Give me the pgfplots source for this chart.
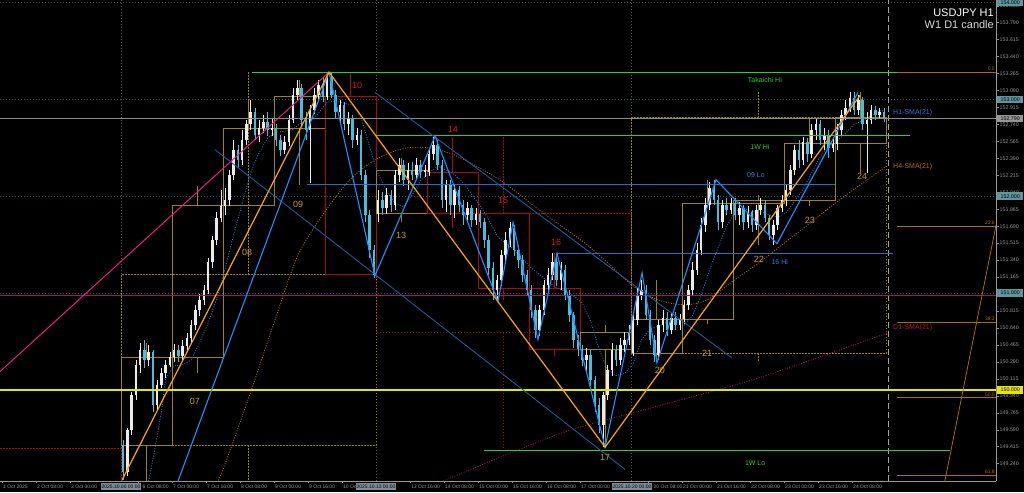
\documentclass[border=0pt]{standalone}
\usepackage{pgfplots}
\pgfplotsset{compat=1.18}
\usepackage{pgfplotstable}
\usepackage{fontspec}
\setmainfont{Liberation Sans}

\definecolor{bullc}{RGB}{235,235,235}
\definecolor{bearc}{RGB}{70,190,220}
\definecolor{boxgold}{RGB}{160,130,20}
\definecolor{boxred}{RGB}{170,10,10}
\definecolor{lblgold}{RGB}{200,160,30}
\definecolor{lblred}{RGB}{210,30,30}
\definecolor{zzorange}{RGB}{255,165,0}
\definecolor{zzblue}{RGB}{30,144,255}
\definecolor{chblue}{RGB}{30,90,160}
\definecolor{lvlblue}{RGB}{40,110,190}
\definecolor{txtblue}{RGB}{60,130,220}
\definecolor{smablue}{RGB}{40,120,220}
\definecolor{smaorange}{RGB}{190,110,20}
\definecolor{smamag}{RGB}{180,20,100}
\definecolor{pinkl}{RGB}{235,30,130}
\definecolor{greenl}{RGB}{40,210,40}
\definecolor{magl}{RGB}{170,20,100}
\definecolor{yell}{RGB}{230,230,0}
\definecolor{curgray}{RGB}{140,140,140}
\definecolor{gridteal}{RGB}{55,95,105}
\definecolor{fibc}{RGB}{170,110,0}
\definecolor{tickgray}{RGB}{150,150,150}
\definecolor{sepgray}{RGB}{90,90,90}
\definecolor{hlteal}{RGB}{95,150,160}
\definecolor{hlgray}{RGB}{150,150,150}
\definecolor{hltime}{RGB}{125,140,150}

\pgfplotstableread{
x o h l c
1 149.43 149.48 149.07 149.15
3 149.15 149.61 149.11 149.59
5 149.59 149.98 149.54 149.95
7 149.95 150.31 149.90 150.26
9 150.26 150.48 150.18 150.41
11 150.41 150.52 150.23 150.31
13 150.31 150.46 150.25 150.39
15 150.39 150.41 149.77 149.84
17 149.84 150.10 149.79 150.05
19 150.05 150.23 150.02 150.18
21 150.18 150.31 150.12 150.26
23 150.26 150.39 150.24 150.34
25 150.34 150.47 150.29 150.41
27 150.41 150.46 150.29 150.35
29 150.35 150.52 150.31 150.45
31 150.45 150.59 150.39 150.54
33 150.54 150.72 150.49 150.67
35 150.67 150.88 150.62 150.83
37 150.83 150.99 150.76 150.93
39 150.93 151.08 150.88 151.03
41 151.03 151.36 150.99 151.32
43 151.32 151.59 151.26 151.55
45 151.55 151.84 151.50 151.77
47 151.77 152.06 151.73 151.90
49 151.90 152.08 151.81 151.96
51 151.96 152.27 151.90 152.22
53 152.22 152.58 152.17 152.48
55 152.48 152.53 152.29 152.37
57 152.37 152.68 152.32 152.58
59 152.58 152.79 152.53 152.74
61 152.74 152.99 152.68 152.87
63 152.87 152.91 152.58 152.63
65 152.63 152.79 152.56 152.70
67 152.70 152.84 152.65 152.77
69 152.77 152.87 152.62 152.68
71 152.68 152.81 152.62 152.70
73 152.70 152.74 152.52 152.58
75 152.58 152.63 152.41 152.48
77 152.48 152.62 152.43 152.56
79 152.56 152.84 152.52 152.79
81 152.79 153.12 152.75 153.04
83 153.04 153.20 152.99 153.12
85 153.12 153.16 152.72 152.79
87 152.79 152.87 152.58 152.68
89 152.68 152.94 152.14 152.89
91 152.89 153.12 152.85 153.04
93 153.04 153.20 152.99 153.15
95 153.15 153.22 152.97 153.02
97 153.02 153.28 152.99 153.22
99 153.22 153.28 153.01 153.04
101 153.04 153.10 152.81 152.87
103 152.87 152.99 152.77 152.94
105 152.94 152.97 152.68 152.74
107 152.74 152.87 152.63 152.81
109 152.81 152.84 152.50 152.58
111 152.58 152.70 152.53 152.63
113 152.63 152.68 152.17 152.22
115 152.22 152.27 151.73 151.81
117 151.81 151.86 151.36 151.44
119 151.44 151.50 151.16 151.19
121 151.82 152.06 151.73 151.96
123 151.96 152.04 151.81 151.88
125 151.88 152.08 151.82 152.01
127 152.01 152.06 151.84 151.91
129 151.91 152.27 151.86 152.22
131 152.22 152.39 152.15 152.32
133 152.32 152.37 152.10 152.17
135 152.17 152.34 152.06 152.27
137 152.27 152.35 152.17 152.22
139 152.22 152.39 152.17 152.32
141 152.32 152.37 152.19 152.25
143 152.25 152.32 152.20 152.27
145 152.25 152.48 152.21 152.43
147 152.43 152.61 152.37 152.53
149 152.53 152.58 152.27 152.32
151 152.32 152.37 151.88 151.96
153 151.96 152.17 151.84 152.12
155 152.12 152.17 151.81 151.91
157 151.91 152.12 151.77 152.06
159 152.06 152.10 151.84 151.91
161 151.91 151.96 151.70 151.81
163 151.81 151.94 151.73 151.88
165 151.88 151.91 151.68 151.75
167 151.75 151.88 151.70 151.82
169 151.82 151.86 151.67 151.73
171 151.73 151.77 151.46 151.55
173 151.55 151.60 151.19 151.26
175 151.26 151.32 150.93 151.03
177 151.03 151.19 150.93 151.14
179 151.14 151.44 151.07 151.39
181 151.39 151.63 151.32 151.55
183 151.55 151.73 151.48 151.67
185 151.67 151.70 151.38 151.44
187 151.44 151.50 151.26 151.34
189 151.34 151.39 151.11 151.19
191 151.19 151.24 150.97 151.03
193 151.03 151.08 150.74 150.83
195 150.83 150.88 150.54 150.62
197 150.62 150.88 150.56 150.83
199 150.83 151.14 150.77 151.08
201 151.08 151.26 151.01 151.19
203 151.19 151.41 151.14 151.32
205 151.32 151.38 151.07 151.14
207 151.14 151.32 151.03 151.24
209 151.24 151.29 150.93 150.98
211 150.98 151.03 150.70 150.77
213 150.77 150.80 150.43 150.52
215 150.52 150.57 150.35 150.42
217 150.42 150.46 150.25 150.31
219 150.31 150.43 150.18 150.36
221 150.36 150.41 150.04 150.10
223 150.10 150.14 149.77 149.84
225 149.84 149.92 149.56 149.64
227 149.64 149.98 149.41 149.95
229 149.95 150.26 149.90 150.21
231 150.21 150.49 150.14 150.41
233 150.41 150.46 150.25 150.31
235 150.31 150.54 150.26 150.46
237 150.46 150.60 150.39 150.52
239 150.52 150.67 150.46 150.59
241 150.38 150.77 150.35 150.72
243 150.72 151.05 150.67 150.98
245 150.98 151.14 150.93 151.03
247 151.03 151.08 150.72 150.77
249 150.77 150.83 150.46 150.52
251 150.52 150.57 150.29 150.36
253 150.36 150.72 150.31 150.67
255 150.67 150.83 150.60 150.74
257 150.74 150.80 150.56 150.62
259 150.62 150.79 150.58 150.74
261 150.74 150.80 150.62 150.67
263 150.67 150.78 150.62 150.73
265 150.73 150.93 150.68 150.88
267 150.88 151.08 150.83 151.03
269 151.03 151.32 150.97 151.24
271 151.24 151.52 151.19 151.44
273 151.44 151.77 151.39 151.70
275 151.70 151.98 151.63 151.91
277 151.91 152.15 151.86 152.08
279 152.08 152.17 151.91 151.96
281 151.96 152.01 151.65 151.73
283 151.73 151.96 151.67 151.91
285 151.91 151.98 151.81 151.86
287 151.86 151.98 151.82 151.93
289 151.93 151.98 151.75 151.81
291 151.81 151.94 151.70 151.88
293 151.88 151.91 151.65 151.73
295 151.73 151.90 151.67 151.84
297 151.84 151.86 151.63 151.70
299 151.70 151.91 151.65 151.86
301 151.86 151.98 151.81 151.91
303 151.91 151.96 151.73 151.77
305 151.77 151.81 151.55 151.60
307 151.60 151.75 151.50 151.70
309 151.70 151.91 151.65 151.88
311 151.88 152.01 151.84 151.96
313 151.96 152.12 151.90 152.06
315 152.06 152.32 152.01 152.27
317 152.27 152.53 152.22 152.48
319 152.48 152.58 152.29 152.37
321 152.37 152.61 152.32 152.56
323 152.56 152.60 152.35 152.43
325 152.43 152.74 152.39 152.68
327 152.68 152.81 152.58 152.74
329 152.74 152.79 152.53 152.58
331 152.58 152.70 152.48 152.63
333 152.63 152.68 152.39 152.50
335 152.50 152.60 152.46 152.54
337 152.54 152.74 152.48 152.68
339 152.68 152.89 152.63 152.84
341 152.84 152.99 152.79 152.91
343 152.91 153.07 152.87 153.01
345 153.01 153.07 152.84 152.89
347 152.89 153.04 152.84 152.99
349 152.99 153.02 152.68 152.74
351 152.74 152.87 152.24 152.79
353 152.79 152.94 152.74 152.89
355 152.89 152.93 152.79 152.84
357 152.84 152.91 152.81 152.87
359 152.87 152.91 152.77 152.81
}\candles

\pgfplotsset{
  gbox/.style={draw=boxgold, line width=0.8pt, mark=none, forget plot},
  rbox/.style={draw=boxred, line width=0.8pt, mark=none, forget plot},
  gweek/.style={draw=boxgold, line width=0.8pt, dash pattern=on 1.5pt off 1.5pt, mark=none, forget plot},
  rweek/.style={draw=boxred, line width=0.8pt, dash pattern=on 1.5pt off 1.5pt, mark=none, forget plot},
  lvl/.style={line width=1pt, mark=none, forget plot},
  candle/.style={forget plot, draw=none, mark=none},
}
\tikzset{
  daylbl/.style={font=\fontsize{9}{9}\selectfont},
  objlbl/.style={font=\fontsize{7}{7}\selectfont},
  fiblbl/.style={font=\fontsize{5}{5}\selectfont, text=fibc, anchor=south east, inner sep=0.5pt},
}

\begin{document}
\begin{tikzpicture}[x=1pt,y=1pt]
\path[use as bounding box] (0,0) rectangle (1024,492);
\fill[black] (0,0) rectangle (1024,492);
\begin{axis}[
  at={(0pt,11pt)}, anchor=south west,
  width=996pt, height=481pt, scale only axis,
  xmin=-56.94, xmax=411.76, ymin=149.061, ymax=154.024,
  axis x line*=bottom, axis y line*=right,
  axis line style={draw=tickgray, -, line width=0.6pt},
  clip mode=individual,
  tick align=outside, major tick length=2.5pt,
  tick style={draw=tickgray, line width=0.4pt},
  xtick={-56,-40,-24,8,24,40,56,72,88,104,136,152,168,184,200,216,248,264,280,296,312,328,344},
  xticklabels={1 Oct 2025,2 Oct 08:00,3 Oct 00:00,\hspace*{3.5pt}6 Oct 08:00,7 Oct 00:00,7 Oct 16:00,8 Oct 08:00,9 Oct 00:00,9 Oct 16:00,10 Oct 08:00,13 Oct 16:00,14 Oct 08:00,15 Oct 00:00,15 Oct 16:00,16 Oct 08:00,17 Oct 00:00,\hspace*{4.5pt}20 Oct 08:00,21 Oct 00:00,21 Oct 16:00,22 Oct 08:00,23 Oct 00:00,23 Oct 16:00,24 Oct 08:00},
  xticklabel style={font=\fontsize{5}{5}\selectfont, text=tickgray, anchor=north west, inner sep=0.5pt, xshift=0.5pt, yshift=-0.5pt},
  ytick={149.24,149.415,149.59,149.765,149.94,150.115,150.29,150.465,150.64,150.815,150.99,151.165,151.34,151.515,151.69,151.865,152.04,152.215,152.39,152.565,152.74,152.915,153.09,153.265,153.44,153.615,153.79,153.965},
  yticklabel={\pgfmathprintnumber[fixed,fixed zerofill,precision=3,assume math mode=true]{\tick}},
  yticklabel style={font=\fontsize{5.3}{5.5}\selectfont, text=tickgray, anchor=west, inner sep=0.5pt, xshift=0.5pt},
  scaled y ticks=false,
]
% grid lines and separators
\addplot[gridteal, dash pattern=on 1pt off 2pt, line width=0.7pt, forget plot] coordinates {(-56.94,154.00) (411.76,154.00)};
\addplot[gridteal, dash pattern=on 1pt off 2pt, line width=0.7pt, forget plot] coordinates {(-56.94,153.00) (411.76,153.00)};
\addplot[gridteal, dash pattern=on 1pt off 2pt, line width=0.7pt, forget plot] coordinates {(-56.94,152.00) (411.76,152.00)};
\addplot[gridteal, dash pattern=on 1pt off 2pt, line width=0.7pt, forget plot] coordinates {(-56.94,151.00) (411.76,151.00)};
\addplot[sepgray, dash pattern=on 1pt off 2pt, line width=0.6pt, forget plot] coordinates {(0,149.061) (0,154.024)};
\addplot[sepgray, dash pattern=on 1pt off 2pt, line width=0.6pt, forget plot] coordinates {(120,149.061) (120,154.024)};
\addplot[sepgray, dash pattern=on 1pt off 2pt, line width=0.6pt, forget plot] coordinates {(240,149.061) (240,154.024)};
\addplot[curgray!80, dash pattern=on 6pt off 3pt, line width=0.7pt, forget plot] coordinates {(360.9,149.061) (360.9,154.024)};

% weekly candles (dotted)
\addplot[rweek] coordinates {(-56.94,149.40) (0,149.40) (0,149.061)};
\addplot[gweek] coordinates {(0,149.43) (120,149.43) (120,151.19) (0,151.19) (0,149.43)};
\addplot[gweek] coordinates {(60,151.19) (60,153.28)};
\addplot[gweek] coordinates {(60,149.43) (60,149.061)};
\addplot[rweek] coordinates {(120,151.82) (240,151.82) (240,150.59) (120,150.59) (120,151.82)};
\addplot[rweek] coordinates {(180,151.82) (180,152.61)};
\addplot[rweek] coordinates {(180,150.59) (180,149.41)};
\addplot[gweek] coordinates {(240,150.38) (360,150.38) (360,152.81) (240,152.81) (240,150.38)};
\addplot[gweek] coordinates {(300,152.81) (300,153.07)};
\addplot[gweek] coordinates {(300,150.38) (300,150.29)};

% daily candles (boxes)
\addplot[gbox] coordinates {(0,149.43) (24,149.43) (24,150.34) (0,150.34) (0,149.43)};
\addplot[gbox] coordinates {(12,149.061) (12,149.43)};
\addplot[gbox] coordinates {(12,150.34) (12,150.48)};
\addplot[gbox] coordinates {(24,150.34) (48,150.34) (48,151.90) (24,151.90) (24,150.34)};
\addplot[gbox] coordinates {(36,150.18) (36,150.34)};
\addplot[gbox] coordinates {(36,151.90) (36,152.10)};
\addplot[gbox] coordinates {(48,151.90) (72,151.90) (72,152.70) (48,152.70) (48,151.90)};
\addplot[gbox] coordinates {(60,152.70) (60,152.99)};
\addplot[gbox] coordinates {(72,152.70) (96,152.70) (96,153.03) (72,153.03) (72,152.70)};
\addplot[gbox] coordinates {(84,152.12) (84,152.70)};
\addplot[gbox] coordinates {(84,153.03) (84,153.20)};
\addplot[rbox] coordinates {(96,153.03) (120,153.03) (120,151.19) (96,151.19) (96,153.03)};
\addplot[rbox] coordinates {(108,153.03) (108,153.28)};
\addplot[gbox] coordinates {(120,151.82) (144,151.82) (144,152.27) (120,152.27) (120,151.82)};
\addplot[gbox] coordinates {(132,151.73) (132,151.82)};
\addplot[gbox] coordinates {(132,152.27) (132,152.39)};
\addplot[rbox] coordinates {(144,152.25) (168,152.25) (168,151.82) (144,151.82) (144,152.25)};
\addplot[rbox] coordinates {(156,152.25) (156,152.61)};
\addplot[rbox] coordinates {(156,151.82) (156,151.67)};
\addplot[rbox] coordinates {(168,151.82) (192,151.82) (192,151.05) (168,151.05) (168,151.82)};
\addplot[rbox] coordinates {(180,151.05) (180,150.93)};
\addplot[rbox] coordinates {(192,151.05) (216,151.05) (216,150.42) (192,150.42) (192,151.05)};
\addplot[rbox] coordinates {(204,151.05) (204,151.41)};
\addplot[rbox] coordinates {(204,150.42) (204,150.35)};
\addplot[gbox] coordinates {(216,150.42) (240,150.42) (240,150.59) (216,150.59) (216,150.42)};
\addplot[gbox] coordinates {(228,149.41) (228,150.42)};
\addplot[gbox] coordinates {(228,150.59) (228,150.67)};
\addplot[gbox] coordinates {(240,150.38) (264,150.38) (264,150.73) (240,150.73) (240,150.38)};
\addplot[gbox] coordinates {(252,150.29) (252,150.38)};
\addplot[gbox] coordinates {(252,150.73) (252,151.14)};
\addplot[gbox] coordinates {(264,150.73) (288,150.73) (288,151.93) (264,151.93) (264,150.73)};
\addplot[gbox] coordinates {(276,150.68) (276,150.73)};
\addplot[gbox] coordinates {(276,151.93) (276,152.17)};
\addplot[gbox] coordinates {(288,151.93) (312,151.93) (312,151.96) (288,151.96) (288,151.93)};
\addplot[gbox] coordinates {(300,151.50) (300,151.93)};
\addplot[gbox] coordinates {(300,151.96) (300,152.01)};
\addplot[gbox] coordinates {(312,151.96) (336,151.96) (336,152.54) (312,152.54) (312,151.96)};
\addplot[gbox] coordinates {(324,151.90) (324,151.96)};
\addplot[gbox] coordinates {(324,152.54) (324,152.81)};
\addplot[gbox] coordinates {(336,152.54) (360,152.54) (360,152.81) (336,152.81) (336,152.54)};
\addplot[gbox] coordinates {(348,152.24) (348,152.54)};
\addplot[gbox] coordinates {(348,152.81) (348,153.07)};

% moving averages
\addplot[smaorange, dash pattern=on 1pt off 1.5pt, line width=0.8pt, smooth, forget plot] coordinates {(44,149.00) (48,149.18) (59.8,149.90) (71.5,150.66) (83.3,151.39) (96,151.84) (107.8,152.17) (120,152.38) (132.7,152.49) (144.5,152.50) (156.2,152.43) (168,152.30) (180.2,152.14) (192.5,151.93) (204.7,151.73) (216.9,151.54) (228.7,151.32) (240.5,151.08) (252.7,150.93) (264.9,150.88) (275.8,150.93) (288.9,151.14) (300.7,151.32) (312.9,151.53) (324.7,151.73) (336.9,151.94) (348.7,152.13) (360.9,152.32)};
\addplot[smamag, dash pattern=on 1pt off 1.5pt, line width=0.8pt, smooth, forget plot] coordinates {(151.5,149.06) (206.6,149.55) (253.6,149.84) (300.7,150.13) (360.9,150.59)};
\addplot[smablue, dash pattern=on 1pt off 1.5pt, line width=0.8pt, forget plot] coordinates {(13,149.06) (15,149.28) (17,149.52) (19,149.77) (21,150.12) (25,150.25) (29,150.26) (33,150.31) (37,150.49) (41,150.69) (45,150.94) (49,151.25) (53,151.60) (57,151.92) (61,152.24) (65,152.45) (69,152.60) (73,152.66) (77,152.67) (81,152.69) (85,152.76) (89,152.77) (93,152.86) (97,152.97) (101,152.98) (105,152.96) (109,152.94) (113,152.81) (117,152.51) (121,152.23) (125,152.05) (129,151.93) (133,151.89) (137,152.01) (141,152.16) (145,152.24) (149,152.31) (153,152.27) (157,152.22) (161,152.14) (165,152.02) (169,151.90) (173,151.76) (177,151.59) (181,151.51) (185,151.45) (189,151.35) (193,151.26) (197,151.19) (201,151.12) (205,151.05) (209,151.02) (213,150.97) (217,150.90) (221,150.71) (225,150.42) (229,150.21) (233,150.15) (237,150.17) (241,150.27) (245,150.52) (249,150.63) (253,150.66) (257,150.70) (261,150.71) (265,150.67) (269,150.77) (273,150.98) (277,151.24) (281,151.47) (285,151.69) (289,151.84) (293,151.88) (297,151.84) (301,151.84) (305,151.81) (309,151.78) (313,151.83) (317,151.95) (321,152.07) (325,152.24) (329,152.41) (333,152.52) (337,152.57) (341,152.65) (345,152.74) (349,152.78) (353,152.83) (357,152.88) (359,152.88)};

% candles: wicks
\addplot[candle, x filter/.expression={\thisrow{c}>=\thisrow{o} ? x : nan},
  error bars/.cd, y dir=plus, y explicit, error mark=none, error bar style={draw=bullc, line width=0.6pt, solid}]
  table[x=x, y=l, y error plus expr=\thisrow{h}-\thisrow{l}] {\candles};
\addplot[candle, x filter/.expression={\thisrow{c}<\thisrow{o} ? x : nan},
  error bars/.cd, y dir=plus, y explicit, error mark=none, error bar style={draw=bearc, line width=0.6pt, solid}]
  table[x=x, y=l, y error plus expr=\thisrow{h}-\thisrow{l}] {\candles};
% candles: bodies
\addplot[candle, x filter/.expression={\thisrow{c}>=\thisrow{o} ? x : nan},
  error bars/.cd, y dir=plus, y explicit, error mark=none, error bar style={draw=bullc, line width=2.6pt, solid}]
  table[x=x, y=o, y error plus expr=\thisrow{c}-\thisrow{o}] {\candles};
\addplot[candle, x filter/.expression={\thisrow{c}<\thisrow{o} ? x : nan},
  error bars/.cd, y dir=plus, y explicit, error mark=none, error bar style={draw=bearc, line width=2.6pt, solid}]
  table[x=x, y=c, y error plus expr=\thisrow{o}-\thisrow{c}] {\candles};

% horizontal levels
\addplot[lvl, curgray, line width=0.8pt] coordinates {(-56.94,152.80) (411.76,152.80)};
\addplot[lvl, magl, line width=0.8pt] coordinates {(-56.94,150.98) (411.76,150.98)};
\addplot[lvl, yell, line width=1.2pt] coordinates {(-56.94,150.00) (411.76,150.00)};
\addplot[lvl, greenl] coordinates {(61.65,153.28) (376,153.28)};
\addplot[lvl, greenl] coordinates {(119.5,152.63) (371.3,152.63)};
\addplot[lvl, greenl] coordinates {(170.8,149.38) (390.1,149.38)};
\addplot[lvl, lvlblue] coordinates {(87.5,152.12) (336,152.12)};
\addplot[lvl, lvlblue] coordinates {(204.7,151.41) (363.3,151.41)};
% fibonacci
\addplot[lvl, fibc, line width=0.9pt] coordinates {(365.2,153.28) (411.76,153.28)};
\addplot[lvl, fibc, line width=0.9pt] coordinates {(365.2,151.69) (411.76,151.69)};
\addplot[lvl, fibc, line width=0.9pt] coordinates {(365.2,150.70) (411.76,150.70)};
\addplot[lvl, fibc, line width=0.9pt] coordinates {(365.2,149.92) (411.76,149.92)};
\addplot[lvl, fibc, line width=0.9pt] coordinates {(365.2,149.12) (411.76,149.12)};
\addplot[lvl, fibc, line width=0.8pt] coordinates {(387.5,149.04) (411.76,151.70)};

% trend lines and zigzags
\addplot[lvl, pinkl] coordinates {(-56.94,150.19) (97.88,153.28)};
\addplot[lvl, chblue, line width=0.9pt] coordinates {(119.5,153.07) (287.5,150.33)};
\addplot[lvl, chblue, line width=0.9pt] coordinates {(44.2,152.48) (237.2,149.18)};
\addplot[lvl, zzblue, line width=1.1pt] coordinates {(26.5,149.04) (97.88,153.28)};
\addplot[lvl, zzblue, line width=1.1pt] coordinates {(97.88,153.28) (119.5,151.18) (147.8,152.62) (177.4,150.91) (184.5,151.73) (196.2,150.52) (205.2,151.41) (227.8,149.41) (245.2,151.21) (252.2,150.28) (280,152.17) (308.7,151.51) (346.8,153.07)};
\addplot[lvl, zzorange, line width=1.2pt] coordinates {(0.47,149.07) (97.88,153.28) (227.8,149.41) (347.8,153.04)};

% object labels
\node[objlbl, text=greenl] at (axis cs:303,153.20) {Takaichi Hi};
\node[objlbl, text=greenl] at (axis cs:300.7,152.51) {1W Hi};
\node[objlbl, text=greenl] at (axis cs:298.4,149.25) {1W Lo};
\node[objlbl, text=txtblue] at (axis cs:298.8,152.22) {09 Lo};
\node[objlbl, text=txtblue] at (axis cs:310,151.32) {16 Hi};
\node[objlbl, text=smablue, anchor=west, inner sep=0pt] at (axis cs:363.3,152.86) {H1-SMA(21)};
\node[objlbl, text=smaorange, anchor=west, inner sep=0pt] at (axis cs:363.3,152.30) {H4-SMA(21)};
\node[objlbl, text=smamag, anchor=west, inner sep=0pt] at (axis cs:363.3,150.64) {D1-SMA(21)};
\node[fiblbl] at (axis cs:411.5,153.29) {0.0};
\node[fiblbl] at (axis cs:411.5,151.70) {23.6};
\node[fiblbl] at (axis cs:411.5,150.71) {38.2};
\node[fiblbl] at (axis cs:411.5,149.93) {50.0};
\node[fiblbl] at (axis cs:411.5,149.13) {61.8};
% day labels
\node[daylbl, text=lblgold] at (axis cs:34.8,149.88) {07};
\node[daylbl, text=lblgold] at (axis cs:59.3,151.42) {08};
\node[daylbl, text=lblgold] at (axis cs:83.3,151.91) {09};
\node[daylbl, text=lblred] at (axis cs:111.1,153.14) {10};
\node[daylbl, text=lblgold] at (axis cs:131.8,151.60) {13};
\node[daylbl, text=lblred] at (axis cs:156.2,152.69) {14};
\node[daylbl, text=lblred] at (axis cs:179.8,151.96) {15};
\node[daylbl, text=lblred] at (axis cs:204.7,151.52) {16};
\node[daylbl, text=lblgold] at (axis cs:227.8,149.30) {17};
\node[daylbl, text=lblgold] at (axis cs:253.6,150.20) {20};
\node[daylbl, text=lblgold] at (axis cs:275.8,150.38) {21};
\node[daylbl, text=lblgold] at (axis cs:300.2,151.35) {22};
\node[daylbl, text=lblgold] at (axis cs:324.2,151.75) {23};
\node[daylbl, text=lblgold] at (axis cs:348.7,152.20) {24};
\end{axis}

% highlighted price labels on the scale
\tikzset{hl/.style={anchor=west, inner sep=0.5pt, minimum height=7.5pt, minimum width=26pt, font=\fontsize{5.3}{5.5}\selectfont, text=black}}
\node[hl, fill=hlteal] at (997,489.7) {154.000};
\node[hl, fill=hlteal] at (997,392.7) {153.000};
\node[hl, fill=hlgray] at (997,373.4) {152.790};
\node[hl, fill=hlteal] at (997,295.8) {152.000};
\node[hl, fill=hlteal] at (997,198.9) {151.000};
\node[hl, fill=yell] at (997,101.9) {150.000};
% highlighted time labels
\tikzset{ht/.style={inner sep=0.8pt, minimum height=7.5pt, font=\fontsize{5}{5}\selectfont, text=black, fill=hltime}}
\node[ht] at (121,5.3) {2025.10.06 00:00};
\node[ht] at (376,5.3) {2025.10.13 00:00};
\node[ht] at (632,5.3) {2025.10.20 00:00};
% title
\node[anchor=base east, text=white, font=\fontsize{11}{11}\selectfont, inner sep=0pt] at (994,475) {USDJPY H1};
\node[anchor=base east, text=white!85!black, font=\fontsize{11}{11}\selectfont, inner sep=0pt] at (994,463) {W1 D1 candle};
\end{tikzpicture}
\end{document}
